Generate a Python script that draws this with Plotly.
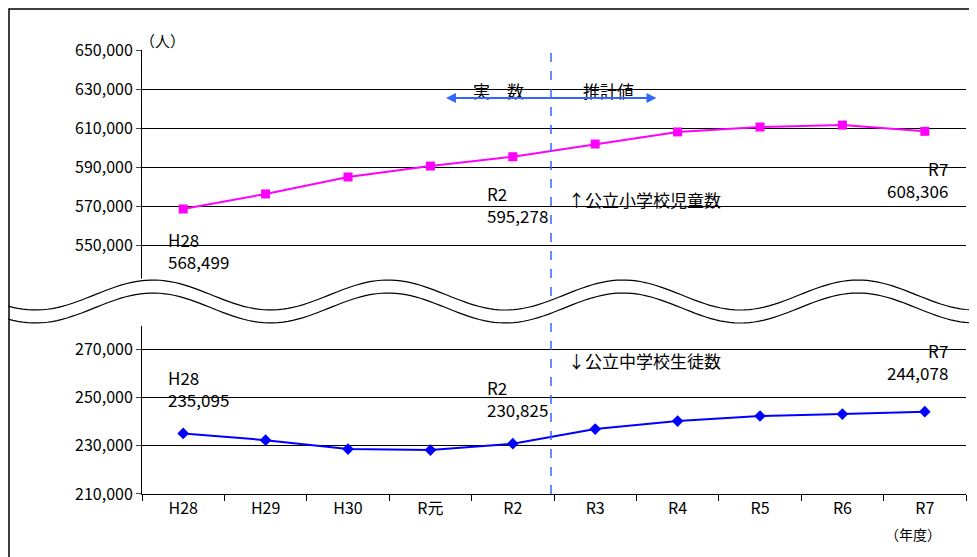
import numpy as np
import plotly.graph_objects as go
from plotly.subplots import make_subplots

years = ["H28", "H29", "H30", "R元", "R2", "R3", "R4", "R5", "R6", "R7"]
elementary = [568499, 576200, 584900, 590500, 595278, 601800, 608000, 610500, 611500, 608306]
junior = [235095, 232300, 228600, 228200, 230825, 236900, 240200, 242300, 243100, 244078]

W, H = 977, 557
L, R, T, B = 134, 19, 42, 71
FONT = "Noto Sans CJK JP"


def px(x):
    return (x - L) / (W - L - R)


def py(y):
    return (H - B - y) / (H - T - B)


fig = make_subplots(rows=2, cols=1, row_heights=[0.525, 0.378], vertical_spacing=0.097)

fig.add_trace(go.Scatter(x=years, y=elementary, mode="lines+markers",
                         line=dict(color="#ff00ff", width=2),
                         marker=dict(symbol="square", size=9, color="#ff00ff")), row=1, col=1)
fig.add_trace(go.Scatter(x=years, y=junior, mode="lines+markers",
                         line=dict(color="#0000ff", width=2),
                         marker=dict(symbol="diamond", size=9, color="#0000ff")), row=2, col=1)

fig.update_xaxes(range=[-0.5, 9.5], showgrid=False, ticks="", showline=False, row=1, col=1,
                 showticklabels=False)
fig.update_xaxes(range=[-0.5, 9.5], showgrid=False, showline=True, linecolor="black",
                 ticks="outside", tickson="boundaries", ticklen=6, tickcolor="black",
                 tickfont=dict(size=16, color="black", family=FONT), row=2, col=1)
fig.update_yaxes(range=[530500, 650000], tickvals=list(range(550000, 650001, 20000)),
                 tickformat=",", showgrid=True, gridcolor="black", gridwidth=1,
                 showline=True, linecolor="black", ticks="outside", ticklen=5,
                 tickfont=dict(size=16, color="black", family=FONT), row=1, col=1)
fig.update_yaxes(range=[210000, 279500], tickvals=list(range(210000, 270001, 20000)),
                 tickformat=",", showgrid=True, gridcolor="black", gridwidth=1,
                 showline=True, linecolor="black", ticks="outside", ticklen=5,
                 tickfont=dict(size=16, color="black", family=FONT), row=2, col=1)

shapes = []
# dashed divider
shapes.append(dict(type="line", xref="paper", yref="paper", x0=px(543), x1=px(543),
                   y0=py(486), y1=py(40), line=dict(color="#3366ff", width=1.5, dash="dash")))
# wave break
xs = np.linspace(0, W, 200)
up = 287 - 15 * np.cos(2 * np.pi * (xs - 145) / 235)
lo = up + 13
pts = [(px(a), py(b)) for a, b in zip(xs, up - 2)] + [(px(a), py(b)) for a, b in zip(xs[::-1], lo[::-1] + 2)]
path = "M " + " L ".join(f"{a:.4f},{b:.4f}" for a, b in pts) + " Z"
shapes.append(dict(type="path", xref="paper", yref="paper", path=path,
                   fillcolor="white", line=dict(width=0), layer="above"))
for curve in (up, lo):
    p = "M " + " L ".join(f"{px(a):.4f},{py(b):.4f}" for a, b in zip(xs, curve))
    shapes.append(dict(type="path", xref="paper", yref="paper", path=p,
                       line=dict(color="black", width=1.2), layer="above"))
# border
shapes.append(dict(type="rect", xref="paper", yref="paper", x0=px(1), x1=px(976),
                   y0=py(556), y1=py(1), line=dict(color="black", width=1.5)))
fig.update_layout(shapes=shapes)

ann = [
    (130, 20, "（人）", 15),
    (490, 68, "実　数", 17),
    (600, 68, "推計値", 17),
    (715, 177, "↑公立小学校児童数", 17),
    (715, 367, "↓公立中学校生徒数", 17),
    (935, 538, "（年度）", 14),
]
for x, y, t, s in ann:
    fig.add_annotation(xref="paper", yref="paper", x=px(x), y=py(y), text=t, showarrow=False,
                       font=dict(size=s, color="black", family=FONT))
fig.add_annotation(xref="paper", yref="paper", x=px(438), y=py(90), ax=212, ay=0,
                   axref="pixel", ayref="pixel", text="", showarrow=True, arrowhead=2,
                   arrowside="end+start", arrowcolor="#3366ff", arrowwidth=2)

lbl = dict(size=17, color="black", family=FONT)
fig.add_annotation(x="H28", y=elementary[0], xref="x", yref="y", text=f"H28<br>{elementary[0]:,}",
                   showarrow=False, yshift=-42, xshift=15, font=lbl, align="left")
fig.add_annotation(x="R2", y=elementary[4], xref="x", yref="y", text=f"R2<br>{elementary[4]:,}",
                   showarrow=False, yshift=-48, xshift=5, font=lbl, align="left")
fig.add_annotation(x="R7", y=elementary[9], xref="x", yref="y", text=f"R7<br>{elementary[9]:,}",
                   showarrow=False, yshift=-48, xshift=-7, font=lbl, align="right")
fig.add_annotation(x="H28", y=junior[0], xref="x2", yref="y2", text=f"H28<br>{junior[0]:,}",
                   showarrow=False, yshift=45, xshift=15, font=lbl, align="left")
fig.add_annotation(x="R2", y=junior[4], xref="x2", yref="y2", text=f"R2<br>{junior[4]:,}",
                   showarrow=False, yshift=45, xshift=5, font=lbl, align="left")
fig.add_annotation(x="R7", y=junior[9], xref="x2", yref="y2", text=f"R7<br>{junior[9]:,}",
                   showarrow=False, yshift=50, xshift=-7, font=lbl, align="right")

fig.update_layout(width=W, height=H, margin=dict(l=L, r=R, t=T, b=B), showlegend=False,
                  plot_bgcolor="white", paper_bgcolor="white", font=dict(family=FONT))
fig.write_html("out.html")
